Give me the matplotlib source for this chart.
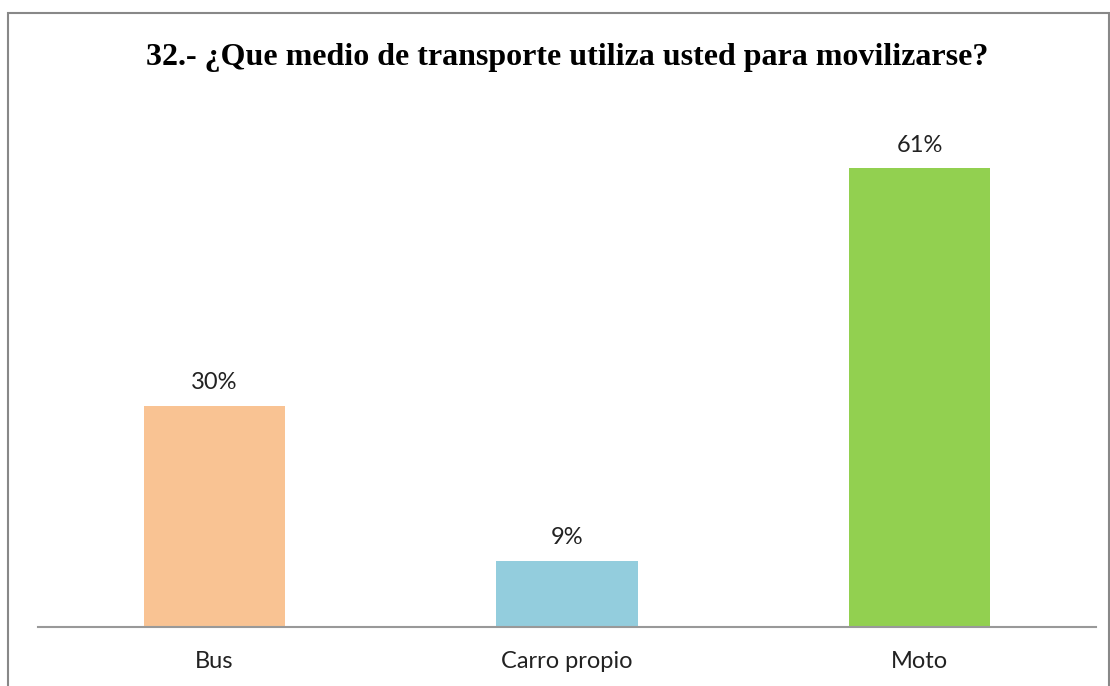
import matplotlib.pyplot as plt
from matplotlib.patches import Rectangle

# datos
categorias = ['Bus', 'Carro propio', 'Moto']
valores = [0.295, 0.088, 0.612]
etiquetas = ['30%', '9%', '61%']
colores = ['#F9C393', '#93CDDD', '#92D050']

W, H = 1110, 686
fig = plt.figure(figsize=(W / 100, H / 100), dpi=100)

# marco gris alrededor del grafico (el borde inferior queda fuera de la imagen)
fig.patches.append(Rectangle((8 / W, -0.05), 1101 / W, 1.05 - 13 / H,
                             transform=fig.transFigure, fill=False,
                             edgecolor='#888888', linewidth=1.5))

ax = fig.add_axes([38 / W, (H - 627) / H, 1058 / W, 525 / H])
ax.bar(range(len(categorias)), valores, width=0.4, color=colores)
ax.set_xlim(-0.5, 2.5)
ax.set_ylim(0, 0.7)

for i, (v, t) in enumerate(zip(valores, etiquetas)):
    ax.annotate(t, (i, v), xytext=(0, 9), textcoords='offset points',
                ha='center', va='bottom', fontsize=17, family='Lato',
                color='#222222')

for s in ['top', 'right', 'left']:
    ax.spines[s].set_visible(False)
ax.spines['bottom'].set_color('#999999')
ax.spines['bottom'].set_linewidth(1.5)
ax.set_yticks([])
ax.set_xticks(range(len(categorias)))
ax.set_xticklabels(categorias, fontsize=17, family='Lato', color='#222222')
ax.tick_params(axis='x', length=0, pad=17)

fig.text(0.511, 1 - 57 / H, '32.- ¿Que medio de transporte utiliza usted para movilizarse?',
         ha='center', va='center', fontsize=23, fontweight='bold',
         family='Liberation Serif')

fig.savefig('out.png', dpi=100)
